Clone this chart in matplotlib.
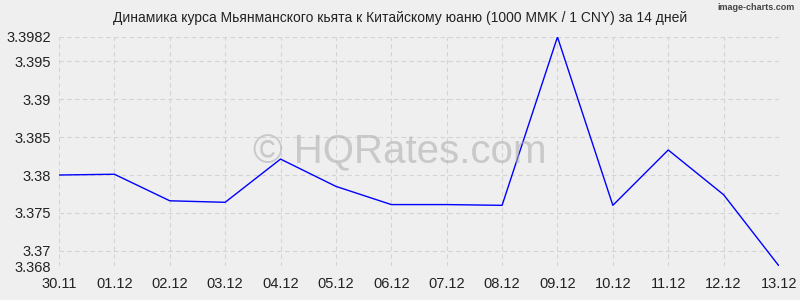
import matplotlib.pyplot as plt

plt.rcParams['font.family'] = ['Liberation Sans', 'DejaVu Sans']

dates = ['30.11', '01.12', '02.12', '03.12', '04.12', '05.12', '06.12',
         '07.12', '08.12', '09.12', '10.12', '11.12', '12.12', '13.12']
rates = [3.3800, 3.3801, 3.3766, 3.3764, 3.3821, 3.3785, 3.3761,
         3.3761, 3.3760, 3.3982, 3.3760, 3.3833, 3.3774, 3.3680]
yticks = [3.368, 3.37, 3.375, 3.38, 3.385, 3.39, 3.395, 3.3982]
ylabels = ['3.368', '3.37', '3.375', '3.38', '3.385', '3.39', '3.395', '3.3982']

bg = '#efefef'
fig = plt.figure(figsize=(8, 3), dpi=100, facecolor=bg)
ax = fig.add_axes([59 / 800, 1 - 266 / 300, 720 / 800, 229 / 300])
ax.set_facecolor(bg)

x = range(len(dates))
ax.plot(x, rates, color='#0000ff', lw=1)

ax.set_xlim(0, len(dates) - 1)
ax.set_ylim(yticks[0], yticks[-1])
ax.set_xticks(list(x))
ax.set_xticklabels(dates)
ax.set_yticks(yticks)
ax.set_yticklabels(ylabels)
ax.tick_params(length=0, labelsize=10.5, colors='#222222', pad=8)
ax.tick_params(axis='y', pad=6)
ax.grid(True, color='#d4d4d4', ls=(0, (4, 3)), lw=0.8)
ax.set_axisbelow(True)
for s in ax.spines.values():
    s.set_visible(False)

fig.text(0.5, 1 - 18 / 300, 'Динамика курса Мьянманского кьята к Китайскому юаню (1000 MMK / 1 CNY) за 14 дней',
         ha='center', va='center', fontsize=10, color='#222222')
fig.text(0.5, 1 - 152 / 300, '© HQRates.com', ha='center', va='center',
         fontsize=29, color='#aaaaaa', alpha=0.55)
fig.text(795 / 800, 1 - 7 / 300, 'image-charts.com', ha='right', va='center',
         fontsize=6.5, color='#444444', fontweight='bold', fontstretch='condensed')

fig.savefig('out.png', dpi=100, facecolor=bg)
